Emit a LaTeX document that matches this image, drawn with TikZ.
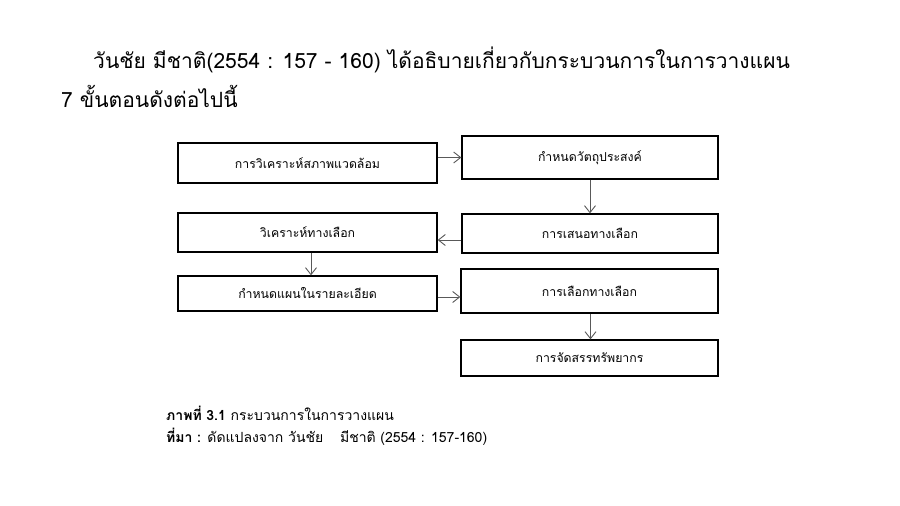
\documentclass[tikz,border=0pt]{standalone}
\usepackage{fontspec}
\newfontfamily\thaifont[Script=Thai]{Loma}
\usetikzlibrary{arrows.meta}
\begin{document}
\begin{tikzpicture}[x=1pt,y=-1pt,
  box/.style={draw=black,line width=1.3pt,inner sep=0pt,font=\thaifont\fontsize{12.3}{14}\selectfont},
  arr/.style={draw=black!65,line width=0.9pt,-{Straight Barb[length=7pt,width=11pt]}},
  head/.style={inner sep=0pt,anchor=base west,font=\thaifont\fontsize{21}{24}\selectfont},
  captxt/.style={inner sep=0pt,anchor=base west,font=\thaifont\fontsize{14}{16}\selectfont}]
\useasboundingbox (0,0) rectangle (900,506);
\node[head] (h1) at (93,68) {วันชัย มีชาติ(2554 : 157 - 160) ได้อธิบายเกี่ยวกับกระบวนการในการวางแผน};
\node[head] (h2) at (61,107) {7 ขั้นตอนดังต่อไปนี้};
\node[box,minimum width=259pt,minimum height=40pt] (b1) at (307.5,163) {การวิเคราะห์สภาพแวดล้อม};
\node[box,minimum width=256pt,minimum height=43pt] (b2) at (590,157.5) {กำหนดวัตถุประสงค์};
\node[box,minimum width=256pt,minimum height=39pt] (b3) at (590,233.5) {การเสนอทางเลือก};
\node[box,minimum width=259pt,minimum height=39pt] (b4) at (307.5,232.5) {วิเคราะห์ทางเลือก};
\node[box,minimum width=259pt,minimum height=35pt] (b5) at (307.5,293.5) {กำหนดแผนในรายละเอียด};
\node[box,minimum width=257pt,minimum height=44pt] (b6) at (589.5,291) {การเลือกทางเลือก};
\node[box,minimum width=257pt,minimum height=36pt] (b7) at (589.5,358) {การจัดสรรทรัพยากร};
\draw[arr] (b1.east |- b2.west) -- (b2.west);
\draw[arr] (b2.south) -- (b3.north);
\draw[arr] ([yshift=-6.5pt]b3.west) -- ([yshift=-6.5pt]b3.west -| b4.east);
\draw[arr] ([xshift=3.5pt]b4.south) -- ([xshift=3.5pt]b4.south |- b5.north);
\draw[arr] ([yshift=-3.5pt]b5.east) -- ([yshift=-3.5pt]b5.east -| b6.west);
\draw[arr] ([xshift=1pt]b6.south) -- ([xshift=1pt]b6.south |- b7.north);
\node[captxt] (c1) at (166,420) {\textbf{ภาพที่ 3.1} กระบวนการในการวางแผน};
\node[captxt] (c2) at (166,442) {\textbf{ที่มา :} ดัดแปลงจาก วันชัย\hspace{12pt} มีชาติ (2554 : 157-160)};
\end{tikzpicture}
\end{document}
